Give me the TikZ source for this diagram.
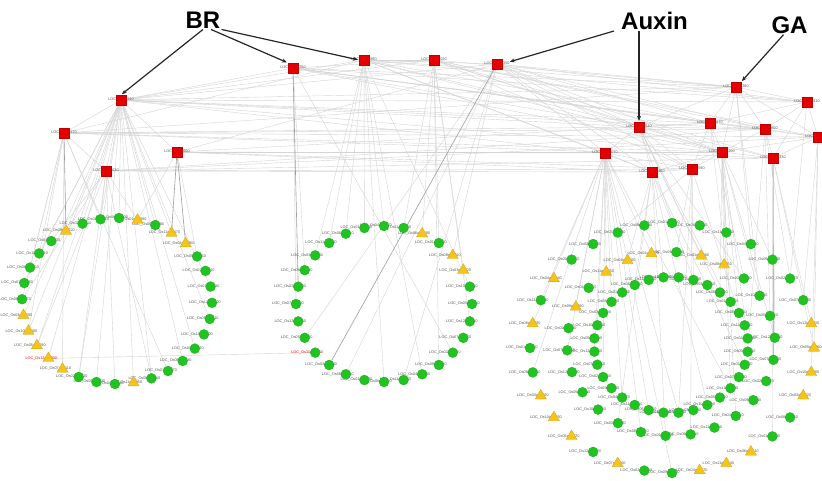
\documentclass[tikz,border=0pt]{standalone}
\usepackage{fontspec}
\setmainfont{Liberation Sans}
\usetikzlibrary{shapes.geometric,arrows.meta}
\definecolor{hubred}{RGB}{228,0,0}
\definecolor{genegreen}{RGB}{32,196,32}
\definecolor{triyellow}{RGB}{246,196,24}
\definecolor{linkgray}{RGB}{212,212,212}
\pgfdeclarelayer{canvas}
\pgfdeclarelayer{edges}
\pgfdeclarelayer{tags}
\pgfsetlayers{canvas,edges,tags,main}
\tikzset{
  hub/.style={rectangle,fill=hubred,draw=red!75!black,line width=0.3pt,minimum size=10pt,inner sep=0pt},
  gn/.style={circle,fill=genegreen,draw=genegreen!80!black,line width=0.2pt,minimum size=10pt,inner sep=0pt},
  tr/.style={regular polygon,regular polygon sides=3,fill=triyellow,draw=triyellow!80!black,line width=0.2pt,minimum size=13pt,inner sep=0pt},
  tag/.style={font=\fontsize{3.8}{4}\selectfont,text=black!65,inner sep=0pt},
  link/.style={draw=linkgray,line width=0.4pt},
  strong/.style={draw=black!38,line width=0.6pt},
  hormone/.style={font=\fontsize{24}{24}\selectfont\bfseries,inner sep=1pt},
  callout/.style={draw=black!85,line width=1.2pt,-{Stealth[length=5pt,width=4pt]},shorten >=1pt}
}
\begin{document}
\begin{tikzpicture}[x=1pt,y=-1pt]
\begin{pgfonlayer}{canvas}
\fill[white] (0,0) rectangle (822,481);
\end{pgfonlayer}
\useasboundingbox (0,0) rectangle (822,481);

% hubs
\foreach \n/\x/\y [count=\k] in {h1/121/100,h2/64/133,h3/177/152,h4/106/171,h5/293/68,h6/364/60,h7/434/60,h8/497/64,h9/736/87,h10/807/102,h11/639/127,h12/710/123,h13/765/129,h14/818/137,h15/605/153,h16/722/152,h17/773/158,h18/652/172,h19/692/169}{
  \node[hub] (\n) at (\x,\y) {};
  \pgfmathtruncatemacro\num{mod(\k*613+211,8999)+1000}
  \begin{pgfonlayer}{tags}
    \node[tag] at (\n) {LOC\_Os\num0};
  \end{pgfonlayer}
}

% hormone callouts
\node[hormone] (BR) at (203,20) {BR};
\node[hormone] (Auxin) at (654.5,21) {Auxin};
\node[hormone] (GA) at (789.5,25) {GA};
\draw[callout] (BR.south) -- (h1.north);
\draw[callout] ([xshift=8pt]BR.south) -- (h5.north west);
\draw[callout] (BR.south east) -- (h6.west);
\draw[callout,shorten >=8pt] ([xshift=-6pt]Auxin.south west) -- (h8.east);
\draw[callout] ([xshift=-15.5pt]Auxin.south) -- (h11.north);
\draw[callout] ([xshift=-6pt]GA.south) -- (h9.north east);

% left circle
\foreach \s [count=\i from 0] in {gn,gn,tr,gn,tr,tr,gn,gn,gn,gn,gn,gn,gn,gn,gn,gn,tr,gn,gn,gn,tr,tr,tr,tr,tr,gn,gn,gn,gn,gn,tr,gn}{
  \pgfmathsetmacro\a{100-\i*11.25}
  \node[\s] (L\i) at ({117+95*cos(\a)},{301-83*sin(\a)}) {};
  \pgfmathtruncatemacro\chr{mod(\i*5+2,12)+1}
  \pgfmathtruncatemacro\num{mod(\i*379+131,8999)+1000}
  \ifnum\i=21 \def\tagcol{red}\else\def\tagcol{black!65}\fi
  \begin{pgfonlayer}{tags}
    \node[tag,text=\tagcol] at ([xshift=-7pt]L\i) {LOC\_Os\ifnum\chr<10 0\fi\chr g\num0};
  \end{pgfonlayer}
}

% middle circle
\foreach \s [count=\i from 0] in {gn,gn,tr,gn,tr,tr,gn,gn,gn,gn,gn,gn,gn,gn,gn,gn,gn,gn,gn,gn,gn,gn,gn,gn,gn,gn,gn,gn}{
  \pgfmathsetmacro\a{90-\i*12.857}
  \node[\s] (M\i) at ({384+88*cos(\a)},{304-78*sin(\a)}) {};
  \pgfmathtruncatemacro\chr{mod(\i*7+3,12)+1}
  \pgfmathtruncatemacro\num{mod(\i*431+577,8999)+1000}
  \ifnum\i=18 \def\tagcol{red}\else\def\tagcol{black!65}\fi
  \begin{pgfonlayer}{tags}
    \node[tag,text=\tagcol] at ([xshift=-8pt]M\i) {LOC\_Os\ifnum\chr<10 0\fi\chr g\num0};
  \end{pgfonlayer}
}

% right rings: outer, middle, inner
\foreach \s [count=\i from 0] in {gn,gn,gn,gn,gn,gn,gn,gn,tr,tr,tr,tr,gn,gn,tr,tr,tr,gn,gn,tr,gn,tr,tr,tr,gn,gn,tr,gn,tr,gn,gn,gn}{
  \pgfmathsetmacro\a{101.25-\i*11.25}
  \node[\s] (O\i) at ({672+142*cos(\a)},{348-125*sin(\a)}) {};
  \pgfmathtruncatemacro\chr{mod(\i*5+7,12)+1}
  \pgfmathtruncatemacro\num{mod(\i*353+919,8999)+1000}
  \begin{pgfonlayer}{tags}
    \node[tag] at ([xshift=-8pt]O\i) {LOC\_Os\ifnum\chr<10 0\fi\chr g\num0};
  \end{pgfonlayer}
}
\foreach \s [count=\i from 0] in {gn,tr,tr,gn,gn,gn,gn,gn,gn,gn,gn,gn,gn,gn,gn,gn,gn,gn,gn,gn,gn,tr,gn,tr,tr,tr}{
  \pgfmathsetmacro\a{87-\i*13.846}
  \node[\s] (Q\i) at ({671+104*cos(\a)},{344-92*sin(\a)}) {};
  \pgfmathtruncatemacro\chr{mod(\i*7+5,12)+1}
  \pgfmathtruncatemacro\num{mod(\i*467+1301,8999)+1000}
  \begin{pgfonlayer}{tags}
    \node[tag] at ([xshift=-8pt]Q\i) {LOC\_Os\ifnum\chr<10 0\fi\chr g\num0};
  \end{pgfonlayer}
}
\foreach \i in {0,...,31}{
  \pgfmathsetmacro\a{95.6-\i*11.25}
  \node[gn] (I\i) at ({671+77*cos(\a)},{345-68*sin(\a)}) {};
  \pgfmathtruncatemacro\chr{mod(\i*5+11,12)+1}
  \pgfmathtruncatemacro\num{mod(\i*293+2017,8999)+1000}
  \begin{pgfonlayer}{tags}
    \node[tag] at ([xshift=-8pt]I\i) {LOC\_Os\ifnum\chr<10 0\fi\chr g\num0};
  \end{pgfonlayer}
}

\begin{pgfonlayer}{edges}
% hub to hub
\foreach \p/\q in {h1/h5,h1/h6,h1/h7,h1/h8,h1/h9,h1/h10,h1/h11,h1/h12,h1/h13,h1/h15,h1/h16,h1/h2,h1/h3,h1/h4,
  h2/h6,h2/h9,h2/h11,h2/h13,h2/h16,h2/h17,h2/h14,h2/h4,
  h3/h8,h3/h12,h3/h15,h3/h18,h3/h19,h3/h16,
  h4/h13,h4/h17,h4/h18,h4/h19,h4/h14,
  h5/h7,h5/h9,h5/h11,h5/h12,h5/h13,h5/h16,h5/h14,h5/h10,
  h6/h7,h6/h8,h6/h9,h6/h10,h6/h12,h6/h15,h6/h16,h6/h17,h6/h18,
  h7/h9,h7/h11,h7/h13,h7/h16,h7/h17,h7/h19,h7/h14,
  h8/h9,h8/h11,h8/h12,h8/h13,h8/h15,h8/h16,h8/h18,h8/h19,h8/h10,
  h9/h10,h9/h12,h9/h13,h9/h16,h9/h11,h9/h14,
  h10/h13,h10/h14,h10/h12,h10/h17,
  h11/h12,h11/h15,h11/h16,h11/h18,h11/h19,h11/h13,
  h12/h16,h12/h19,h12/h13,h13/h16,h13/h17,h13/h14,h14/h16,h14/h17,
  h15/h18,h15/h16,h15/h19,h16/h18,h16/h19,h16/h17,h18/h19}
  \draw[link] (\p) -- (\q);
% hubs to genes
\foreach \h/\t in {
  h1/{L0,L1,L3,L4,L8,L10,L12,L13,L15,L16,L18,L19,L21,L22,L23,L24,L26,L28,L30,L31},
  h2/{L0,L14,L20,L23,L25,L27,L28},
  h3/{L2,L6},
  h4/{L0,L2,L15,L17,L19,L22,L25,L29},
  h5/{M10,M21,M23},
  h6/{M0,M6,M12,M14,M24,M25,M26,M27},
  h7/{M1,M2,M3,M5,M8,M11},
  h8/{M4,M13,M16,M19},
  h15/{I12,I16,I18,I20,I22,I24,I26,I28,Q14,Q19,Q21,Q23,Q25,O17,O24,O26,O27},
  h11/{I2,I4,I8,Q1,Q3},
  h18/{I0,I10,I14,I30,Q13,Q15,Q24,O1},
  h19/{I2,I6,I16,Q0,Q12,O31},
  h16/{I4,I6,I8,I12,Q2,Q4,Q6,Q10,O3,O5},
  h12/{I5,Q3},
  h13/{I9,Q5,O6},
  h17/{Q6,O8,O9,O13},
  h9/{O4,Q4},
  h14/{O7,O9,O10},
  h10/{O6}}{
  \foreach \q in \t
    \draw[link] (\h) -- (\q);
}
\draw[strong] (h2) -- (L30);
\draw[strong] (h3) -- (L4);
\draw[strong] (h3) -- (L5);
\draw[strong] (h5) -- (M22);
\draw[strong] (h8) -- (M17);
\draw[strong] (h17) -- (Q7);
\draw[link] (L21) -- (M18);
\end{pgfonlayer}
\end{tikzpicture}
\end{document}
